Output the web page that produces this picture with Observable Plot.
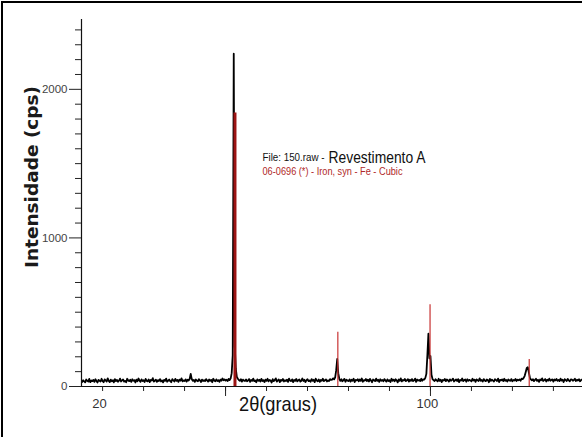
<!DOCTYPE html>
<html>
<head>
<meta charset="utf-8">
<script src="https://cdn.jsdelivr.net/npm/d3@7"></script>
<script src="https://cdn.jsdelivr.net/npm/@observablehq/plot@0.6"></script>
<style>
  html, body { margin: 0; padding: 0; background: #fff; }
  #wrap { position: relative; width: 582px; height: 437px; overflow: hidden; }
  #border { position: absolute; left: 1px; top: 1px; right: -10px; bottom: -10px;
            border-top: 2px solid #000; border-left: 2px solid #000; pointer-events: none; }
</style>
</head>
<body>
<div id="wrap"><div id="border"></div></div>
<script>
// ---- data ----
const scanStart = 15;      // 2θ of first count
const scanStep = 0.25;     // 2θ step between counts
const counts = [
  30,42,35,28,47,38,33,51,29,40,36,44,31,49,37,27,45,39,34,52,
  36,29,48,41,33,55,38,30,46,35,42,28,50,37,44,32,39,53,34,41,
  47,33,38,29,52,40,36,45,31,49,38,43,27,46,35,54,39,32,48,37,
  42,30,51,38,35,47,29,44,40,56,33,39,46,31,43,37,50,34,41,28,
  45,38,53,32,40,47,36,29,49,42,34,51,38,44,31,46,39,55,35,41,
  37,48,33,45,40,52,85,50,38,44,31,47,39,35,49,42,30,46,37,43,
  36,50,41,33,47,38,44,29,52,40,35,48,37,43,31,46,39,54,42,48,
  40,45,37,51,43,55,90,210,2240,270,120,65,52,44,38,49,33,46,40,37,
  47,35,42,50,31,44,38,53,36,41,29,48,39,45,34,51,37,43,30,46,
  38,52,35,44,40,27,49,36,43,55,33,41,47,30,45,39,50,34,42,37,
  46,31,53,40,36,48,29,44,38,51,35,42,47,33,39,54,37,45,30,43,
  49,36,41,32,50,38,45,29,53,40,35,47,31,44,39,52,36,42,48,34,
  41,37,50,44,46,55,48,62,110,185,90,52,38,49,35,43,51,32,45,40,
  36,48,33,45,39,52,30,44,41,49,35,47,38,54,32,43,40,50,37,46,
  34,51,40,29,47,42,36,53,38,45,31,49,39,44,35,50,41,33,48,37,
  43,30,52,39,46,35,49,41,28,47,38,55,34,44,40,51,36,42,49,33,
  45,38,50,36,42,53,31,47,40,44,37,52,39,48,46,58,85,210,355,190,
  205,80,50,43,37,49,41,35,52,38,46,30,44,40,51,36,47,42,33,48,
  39,45,53,34,41,48,37,50,29,44,40,54,36,43,47,32,49,38,45,41,
  35,52,40,46,31,48,42,37,55,39,44,33,50,41,36,47,43,29,51,38,
  46,40,34,49,43,37,53,30,45,41,48,36,52,39,44,33,47,42,38,50,
  35,44,40,51,37,46,42,48,39,53,50,58,72,98,125,130,95,62,48,41,
  49,36,44,52,38,45,31,47,42,55,37,43,50,34,46,40,53,39,44,48,
  33,47,41,50,38,44,36,53,40,45,30,49,43,37,51,42,35,48,46,39,
  44,52,37,45,40,49,35,43,47
];
// reference pattern 06-0696 Iron, syn (sticks)
const stickAngles = [52.3, 77.4, 99.9, 124.1];
const stickIntensity = [1840, 365, 550, 182];

const xDomain = [14.85, 137.1];
const yDomain = [0, 2470];
const xTicks = [20, 30, 40, 50, 60, 70, 80, 90, 100, 110, 120, 130];
const xLongTicks = [50, 100];
const xTickLabels = [20, 100];
const yMajorTicks = [0, 1000, 2000];
const yMinorTicks = [100,200,300,400,500,600,700,800,900,1100,1200,1300,1400,1500,1600,1700,1800,1900,2100,2200,2300,2400];

const title = "Revestimento A";
const fileLabel = "File: 150.raw -";
const patternLabel = "06-0696 (*) - Iron, syn - Fe - Cubic";
const xLabel = "2θ(graus)";
const yLabel = "Intensidade (cps)";

// ---- tables ----
const trace = counts.map((c, i) => ({angle: scanStart + i * scanStep, counts: c}));
const sticks = stickAngles.map((a, i) => ({angle: a, intensity: stickIntensity[i]}));

const sans = "'Liberation Sans', Arial, sans-serif";

const chart = Plot.plot({
  width: 582,
  height: 437,
  marginLeft: 81,
  marginRight: 0,
  marginTop: 19,
  marginBottom: 51,
  x: {domain: xDomain},
  y: {domain: yDomain},
  style: {background: "transparent", fontFamily: sans, overflow: "visible"},
  marks: [
    Plot.lineY(trace, {x: "angle", y: "counts", stroke: "#000", strokeWidth: 1.8}),
    Plot.ruleX(sticks, {filter: d => d.intensity > 1000, x: "angle", y1: 0, y2: "intensity", stroke: "#9c1414", strokeWidth: 3}),
    Plot.ruleX(sticks, {filter: d => d.intensity <= 1000, x: "angle", y1: 0, y2: "intensity", stroke: "#c83232", strokeWidth: 1.2}),
    Plot.ruleY([yDomain[0]], {stroke: "#111", strokeWidth: 1.2}),
    Plot.ruleX([xDomain[0]], {y1: yDomain[0], y2: yDomain[1], stroke: "#111", strokeWidth: 1.2}),
    Plot.axisX(xTicks, {tickSize: 5, tickFormat: () => "", label: null, stroke: "#222"}),
    Plot.axisX(xLongTicks, {tickSize: 10, tickFormat: () => "", label: null, stroke: "#222"}),
    Plot.axisX(xTickLabels, {tickSize: 0, tickPadding: 12, dx: -3, fontSize: 13, tickFormat: d => String(d), label: null, fill: "#333"}),
    Plot.axisY(yMinorTicks, {tickSize: 6, tickFormat: () => "", label: null, stroke: "#222"}),
    Plot.axisY(yMajorTicks, {tickSize: 12, tickPadding: 2, fontSize: 11.5, tickFormat: d => String(d), label: null, fill: "#444", stroke: "#222"}),
    Plot.text([fileLabel], {frameAnchor: "top-left", textAnchor: "start", dx: 181, dy: 134, fontSize: 10, fill: "#111"}),
    Plot.text([title], {frameAnchor: "top-left", textAnchor: "start", dx: 247, dy: 131, fontSize: 17, fill: "#111"}),
    Plot.text([patternLabel], {frameAnchor: "top-left", textAnchor: "start", dx: 181, dy: 148, fontSize: 10, fill: "#b02828"}),
    Plot.text([xLabel], {frameAnchor: "bottom", dx: -54, dy: 24, fontSize: 21, fill: "#111"}),
    Plot.text([yLabel], {frameAnchor: "left", textAnchor: "middle", rotate: -90, dx: -49, dy: -26, fontSize: 18, fontWeight: "bold", fontFamily: "'DejaVu Sans', sans-serif", fill: "#1a1a1a"})
  ]
});

// condense the narrow-font labels of the original to their measured widths
const widths = new Map([[title, 97], [fileLabel, 62], [patternLabel, 140], [xLabel, 78], [yLabel, 182]]);
chart.querySelectorAll("text").forEach(t => {
  const w = widths.get(t.textContent);
  if (w) { t.setAttribute("textLength", w); t.setAttribute("lengthAdjust", "spacingAndGlyphs"); }
});

chart.style.position = "absolute";
chart.style.left = "0";
chart.style.top = "0";
document.getElementById("wrap").insertBefore(chart, document.getElementById("border"));
</script>
</body>
</html>
